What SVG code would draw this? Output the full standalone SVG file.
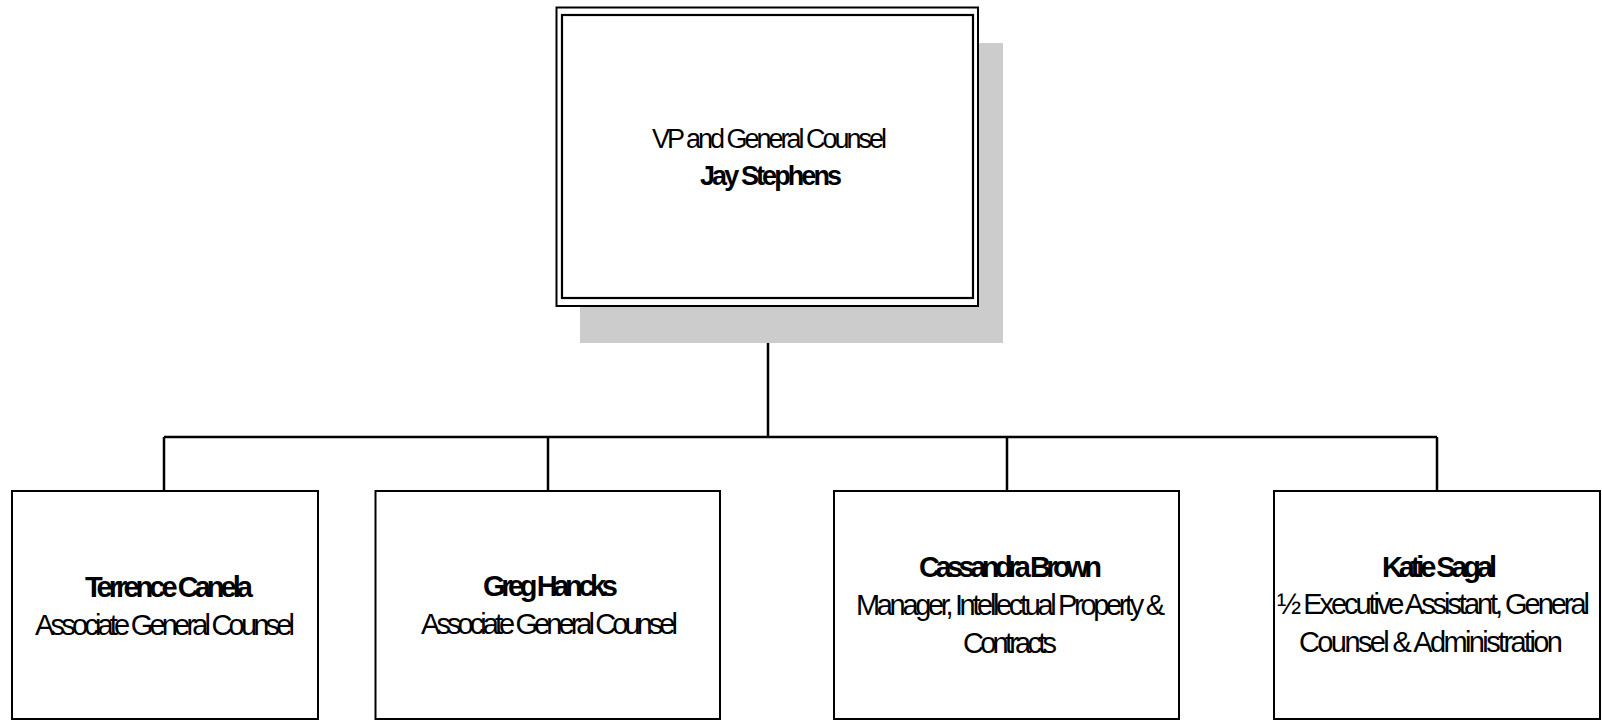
<svg xmlns="http://www.w3.org/2000/svg" width="1602" height="721" viewBox="0 0 1602 721">
<style>
.box{fill:#fff;stroke:#000;stroke-width:2}
.t{font-family:"Liberation Sans",Arial,sans-serif;font-size:29px;fill:#000;text-anchor:middle}
.top{font-size:27px}
.b{font-weight:bold}
.c{fill:none;stroke:#000;stroke-width:2.5}
</style>
<rect width="1602" height="721" fill="#fff"/>
<g id="connectors">
<path class="c" d="M768 306V437M164 437H1437M164 437V491M548 437V491M1007 437V491M1437 437V491"/>
</g>
<g id="vp">
<rect x="580" y="43" width="423" height="300" fill="#cccccc"/>
<rect x="556.5" y="7.5" width="421.5" height="298.5" fill="#fff" stroke="#000" stroke-width="2"/>
<rect x="562" y="15" width="411" height="283" fill="none" stroke="#000" stroke-width="2.2"/>
<text class="t top" x="769.5" y="148" textLength="235" lengthAdjust="spacing">VP and General Counsel</text>
<text class="t top b" x="771" y="185" textLength="142" lengthAdjust="spacing">Jay Stephens</text>
</g>
<g id="terrence">
<rect class="box" x="12" y="491" width="306" height="228"/>
<text class="t b" x="169" y="597" textLength="168" lengthAdjust="spacing">Terrence Canela</text>
<text class="t" x="165" y="635" textLength="260" lengthAdjust="spacing">Associate General Counsel</text>
</g>
<g id="greg">
<rect class="box" x="375.5" y="491" width="344.5" height="228"/>
<text class="t b" x="550.5" y="596" textLength="135" lengthAdjust="spacing">Greg Hancks</text>
<text class="t" x="549.5" y="634" textLength="257" lengthAdjust="spacing">Associate General Counsel</text>
</g>
<g id="cassandra">
<rect class="box" x="834" y="491" width="345" height="228"/>
<text class="t b" x="1010.5" y="577" textLength="183" lengthAdjust="spacing">Cassandra Brown</text>
<text class="t" x="1010.5" y="615" textLength="309" lengthAdjust="spacing">Manager, Intellectual Property &amp;</text>
<text class="t" x="1010" y="653" textLength="94" lengthAdjust="spacing">Contracts</text>
</g>
<g id="katie">
<rect class="box" x="1274" y="491" width="326" height="228"/>
<text class="t b" x="1439.5" y="577" textLength="115" lengthAdjust="spacing">Katie Sagal</text>
<text class="t" x="1433.5" y="614" textLength="313" lengthAdjust="spacing">½ Executive Assistant, General</text>
<text class="t" x="1431" y="652" textLength="264" lengthAdjust="spacing">Counsel &amp; Administration</text>
</g>
</svg>
